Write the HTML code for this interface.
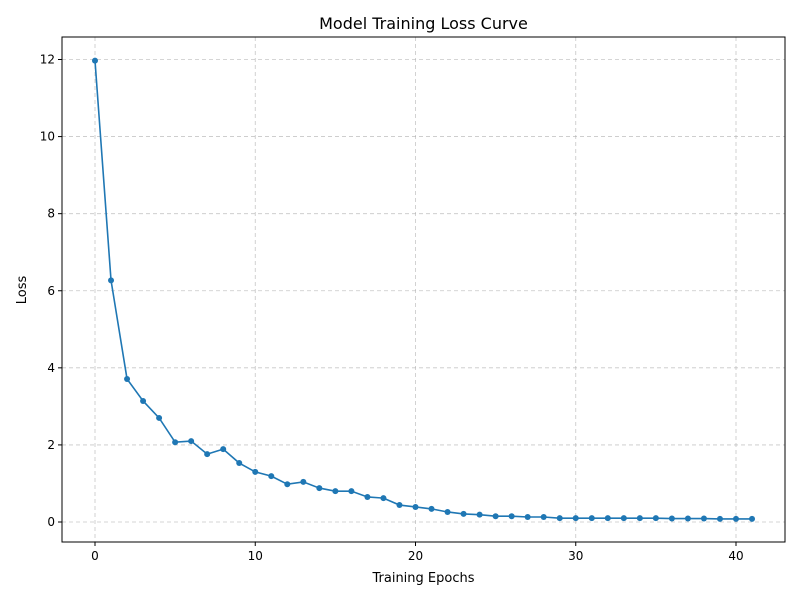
<!DOCTYPE html>
<html><head><meta charset="utf-8"><style>
body{margin:0;background:#fff;font-family:"Liberation Sans","DejaVu Sans",sans-serif;}
svg text{font-family:"DejaVu Sans","Liberation Sans",sans-serif;}
</style></head><body>
<svg id="chart" width="800" height="600" xmlns="http://www.w3.org/2000/svg">
<rect width="800" height="600" fill="#fff"/>
<g id="grid"></g>
<g id="ticks"></g>
<g id="series"></g>
<rect x="62" y="37" width="723" height="505" fill="none" stroke="#000" stroke-width="1"/>
<text x="423.5" y="29" text-anchor="middle" font-size="16">Model Training Loss Curve</text>
<text x="423.5" y="582" text-anchor="middle" font-size="13">Training Epochs</text>
<text transform="translate(26,290) rotate(-90)" text-anchor="middle" font-size="13">Loss</text>
</svg>
<script>
const epochs = [0,1,2,3,4,5,6,7,8,9,10,11,12,13,14,15,16,17,18,19,20,21,22,23,24,25,26,27,28,29,30,31,32,33,34,35,36,37,38,39,40,41];
const lossValues = [11.97,6.27,3.71,3.14,2.70,2.07,2.10,1.76,1.89,1.53,1.30,1.19,0.98,1.04,0.88,0.80,0.80,0.65,0.62,0.44,0.39,0.34,0.26,0.21,0.19,0.15,0.15,0.13,0.13,0.10,0.10,0.10,0.10,0.10,0.10,0.10,0.09,0.09,0.09,0.08,0.08,0.08];
const xTicks = [0,10,20,30,40];
const yTicks = [0,2,4,6,8,10,12];
const ns = "http://www.w3.org/2000/svg";
const L=62,R=785,T=37,B=542;
function xs(v){return 95 + v*(736-95)/40;}
function ys(v){return 522 - v*(522-59.5)/12;}
function mk(tag, attrs, parent){const e=document.createElementNS(ns,tag);for(const k in attrs)e.setAttribute(k,attrs[k]);parent.appendChild(e);return e;}
const grid=document.getElementById('grid'), ticks=document.getElementById('ticks'), series=document.getElementById('series');
xTicks.forEach(v=>{
  const x=xs(v);
  const g=mk('line',{x1:x,x2:x,y1:T,y2:B,stroke:'#b0b0b0','stroke-width':0.8,'stroke-dasharray':'4,3',opacity:0.7},grid);
  
  
  const t=mk('line',{x1:x,x2:x,y1:B,y2:B+4,stroke:'#000'},ticks);
  
  
  const l=mk('text',{x:x,y:B+18,'text-anchor':'middle','font-size':12},ticks);
  l.textContent=v;
  
  
});
yTicks.forEach(v=>{
  const y=ys(v);
  const g=mk('line',{x1:L,x2:R,y1:y,y2:y,stroke:'#b0b0b0','stroke-width':0.8,'stroke-dasharray':'4,3',opacity:0.7},grid);
  
  
  const t=mk('line',{x1:L-4,x2:L,y1:y,y2:y,stroke:'#000'},ticks);
  
  
  const l=mk('text',{x:L-7,y:y+4,'text-anchor':'end','font-size':12},ticks);
  l.textContent=v;
  
  
});
const pts=epochs.map((e,i)=>xs(e)+','+ys(lossValues[i])).join(' ');
const line=mk('polyline',{points:pts,fill:'none',stroke:'#1f77b4','stroke-width':1.6},series);


epochs.forEach((e,i)=>{
  const c=mk('circle',{cx:xs(e),cy:ys(lossValues[i]),r:3,fill:'#1f77b4'},series);
  
  
});
</script>
</body></html>
